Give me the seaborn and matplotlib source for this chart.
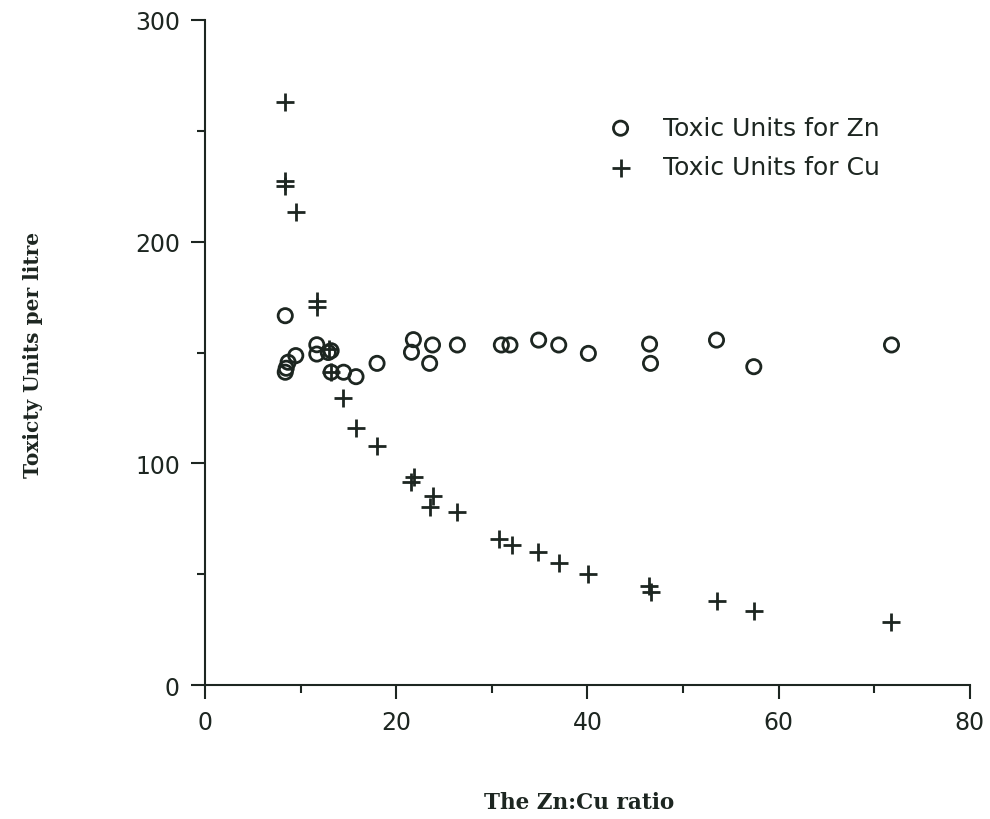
import numpy as np
import pandas as pd
import seaborn as sns
import matplotlib
matplotlib.use("Agg")
import matplotlib.pyplot as plt
from matplotlib.ticker import MultipleLocator

sns.set_style("ticks")

# Zn:Cu ratio and toxic units
zn_ratio = [8.4, 8.4, 8.5, 8.7, 9.5, 11.7, 11.7, 12.9, 13.2, 13.2, 14.5, 15.8,
            18.0, 21.6, 21.8, 23.5, 23.8, 26.4, 31.0, 31.9, 34.9, 37.0, 40.1,
            46.5, 46.6, 53.5, 57.4, 71.8]
zn_tu = [166.6, 141.1, 142.9, 145.6, 148.6, 153.5, 149.3, 150.0, 150.8, 141.1,
         141.1, 139.1, 145.1, 150.1, 155.8, 145.1, 153.4, 153.4, 153.4, 153.4,
         155.6, 153.4, 149.6, 153.8, 145.1, 155.6, 143.6, 153.4]

cu_ratio = [8.4, 8.4, 8.4, 9.5, 11.7, 11.7, 13.0, 13.2, 14.4, 15.8, 18.0,
            21.6, 21.9, 23.5, 23.9, 26.4, 30.8, 32.1, 34.8, 37.0, 40.1,
            46.4, 46.6, 53.5, 57.4, 71.8]
cu_tu = [263.1, 227.5, 225.0, 213.5, 173.4, 170.4, 151.6, 141.1, 129.3, 115.9,
         107.7, 91.4, 93.7, 80.2, 85.4, 77.9, 65.9, 63.2, 59.9, 54.9, 49.9,
         44.8, 41.8, 38.0, 33.2, 28.6]

ink = "#1d2621"

fig = plt.figure(figsize=(9.9, 8.2), dpi=100)
ax = fig.add_axes([0.207, 0.1634, 0.7727, 0.811])

sns.scatterplot(x=zn_ratio, y=zn_tu, marker="o", s=105, color=ink,
                facecolors="none", edgecolors=ink, linewidth=2.0,
                label="Toxic Units for Zn", ax=ax)
sns.scatterplot(x=cu_ratio, y=cu_tu, marker="+", s=160, color=ink,
                linewidth=2.0, label="Toxic Units for Cu", ax=ax)

ax.set_xlim(0, 80)
ax.set_ylim(0, 300)
ax.xaxis.set_major_locator(MultipleLocator(20))
ax.xaxis.set_minor_locator(MultipleLocator(10))
ax.yaxis.set_major_locator(MultipleLocator(100))
ax.yaxis.set_minor_locator(MultipleLocator(50))
sns.despine(ax=ax)
for s in ["left", "bottom"]:
    ax.spines[s].set_linewidth(1.5)
    ax.spines[s].set_color(ink)
ax.tick_params(which="major", length=10, width=1.5, color=ink,
               labelsize=17, labelcolor=ink, pad=8)
ax.tick_params(which="minor", length=6, width=1.5, color=ink)
ax.set_xlabel("")
ax.set_ylabel("")

leg = ax.legend(loc="upper left", bbox_to_anchor=(0.527, 0.856),
                frameon=False, fontsize=18, handlelength=1.0,
                handletextpad=1.2, labelspacing=0.62, borderaxespad=0,
                borderpad=0)
for t in leg.get_texts():
    t.set_color(ink)

fig.text(0.585, 1 - 803 / 820, "The Zn:Cu ratio", ha="center", va="center",
         family="DejaVu Serif", weight="bold", fontsize=15.5, color=ink)
fig.text(0.033, 1 - 355 / 820, "Toxicty Units per litre", ha="center",
         va="center", rotation=90, family="DejaVu Serif", weight="bold",
         fontsize=14.5, color=ink)

fig.savefig("out.png", dpi=100)
